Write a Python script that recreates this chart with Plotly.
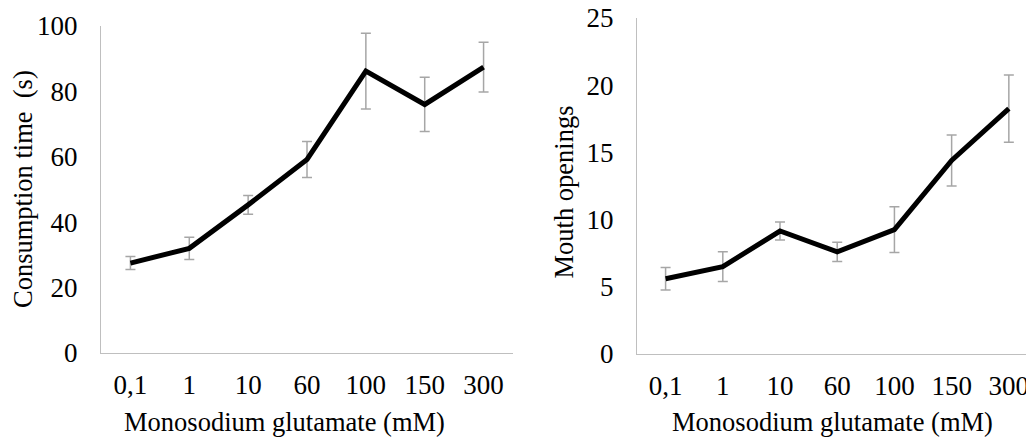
import plotly.graph_objects as go

# Monosodium glutamate concentrations (mM)
concentrations = ["0,1", "1", "10", "60", "100", "150", "300"]

# Consumption time (s): means and error values
consumption_mean = [27.5, 32.0, 45.3, 59.2, 86.2, 76.0, 87.4]
consumption_err = [2.0, 3.4, 2.9, 5.5, 11.6, 8.3, 7.6]

# Mouth openings: means and error values
openings_mean = [5.6, 6.5, 9.15, 7.6, 9.25, 14.4, 18.25]
openings_err = [0.83, 1.1, 0.67, 0.72, 1.7, 1.9, 2.5]

W, H = 1026, 443
FONT = "Liberation Serif, Times New Roman, serif"
AXIS_GREY = "#BFBFBF"
ERR_GREY = "#A6A6A6"

fig = go.Figure()


def add_series(xa, ya, means, errs):
    # error bars first so the mean line sits on top of them
    fig.add_trace(go.Scatter(
        x=concentrations, y=means, mode="markers",
        marker=dict(size=0.1, color="rgba(0,0,0,0)"),
        error_y=dict(type="data", array=errs, visible=True,
                     color=ERR_GREY, thickness=1.5, width=5),
        xaxis=xa, yaxis=ya, showlegend=False, hoverinfo="skip",
    ))
    fig.add_trace(go.Scatter(
        x=concentrations, y=means, mode="lines",
        line=dict(color="black", width=5),
        xaxis=xa, yaxis=ya, showlegend=False,
    ))


add_series("x", "y", consumption_mean, consumption_err)
add_series("x2", "y2", openings_mean, openings_err)

tick_font = dict(family=FONT, size=27, color="black")
title_font = dict(family=FONT, size=26.5, color="black")
common_x = dict(type="category", showgrid=False, zeroline=False,
                showline=True, linecolor=AXIS_GREY, linewidth=1,
                ticks="outside", ticklen=8, tickcolor="rgba(0,0,0,0)",
                tickfont=tick_font, fixedrange=True, automargin=False)
common_y = dict(showgrid=False, zeroline=False, showline=True,
                linecolor=AXIS_GREY, linewidth=1,
                ticks="outside", ticklen=17, tickcolor="rgba(0,0,0,0)",
                tickfont=tick_font, fixedrange=True, automargin=False)


def title(text, x, y, angle=0):
    return dict(text=text, x=x / W, y=(H - y) / H, xref="paper",
                yref="paper", xanchor="center", yanchor="middle",
                showarrow=False, textangle=angle, font=title_font)


fig.update_layout(
    template="none",
    width=W, height=H,
    margin=dict(l=0, r=0, t=0, b=0, pad=0),
    paper_bgcolor="white", plot_bgcolor="white",
    font=dict(family=FONT, color="black"),
    xaxis=dict(domain=[101 / W, 513 / W], range=[-0.5, 6.5],
               anchor="y", **common_x),
    yaxis=dict(domain=[(H - 353) / H, (H - 26) / H], range=[0, 100],
               dtick=20, anchor="x", **common_y),
    xaxis2=dict(domain=[637 / W, 1.0], range=[-0.5, 6.3],
                anchor="y2", **common_x),
    yaxis2=dict(domain=[(H - 354) / H, (H - 18) / H], range=[0, 25],
                dtick=5, anchor="x2", **common_y),
    annotations=[
        title("Monosodium glutamate (mM)", 284, 422),
        title("Monosodium glutamate (mM)", 832, 422),
        title("Consumption time\u00a0 (s)", 23, 189, -90),
        title("Mouth openings", 563, 192.5, -90),
    ],
)

fig.write_html("out.html")
